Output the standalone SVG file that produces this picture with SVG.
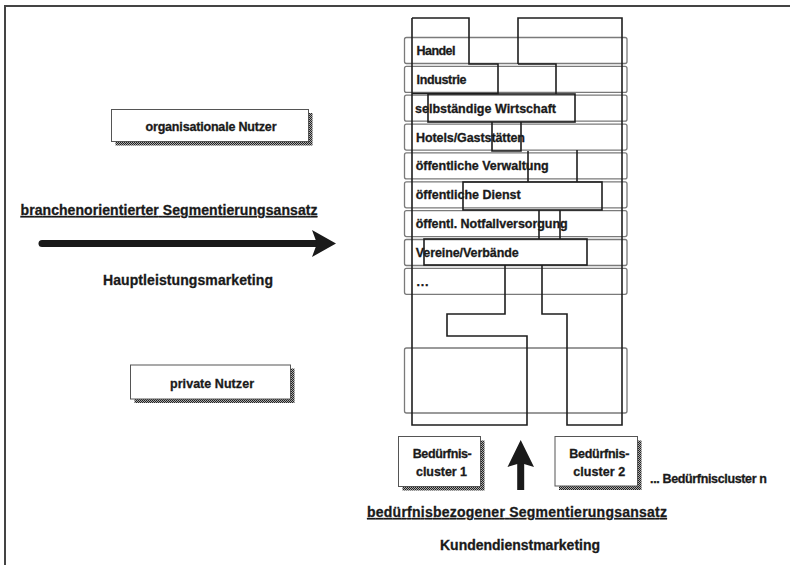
<svg xmlns="http://www.w3.org/2000/svg" width="790" height="565" viewBox="0 0 790 565">
<defs>
<pattern id="stip" width="2" height="2" patternUnits="userSpaceOnUse"><rect width="2" height="2" fill="#aaa"/><rect width="1" height="1" fill="#222"/><rect x="1" y="1" width="1" height="1" fill="#222"/></pattern>
<style>
text{font-family:"Liberation Sans",Arial,Helvetica,sans-serif;font-weight:bold;fill:#1a1a1a;stroke:#1a1a1a;stroke-width:0.3}
.lbl{font-size:12.5px}
.big{font-size:14px}
.row{fill:none;stroke:#7a7a7a;stroke-width:1.3}
.dk{fill:none;stroke:#1e1e1e;stroke-width:1.6}
.box{fill:#fff;stroke:#555;stroke-width:1}
.sh{fill:url(#stip)}
.frame{stroke:#444;stroke-width:2;fill:none}
</style>
</defs>
<rect width="790" height="565" fill="#fff"/>
<path class="frame" d="M5,565 V6 H790"/>

<g id="organisationale-nutzer">
<rect class="sh" x="115.5" y="113" width="197" height="32.5"/>
<rect class="box" x="111.5" y="109.5" width="197" height="32"/>
<text class="lbl" x="145.5" y="131" textLength="131">organisationale Nutzer</text>
</g>

<g id="private-nutzer">
<rect class="sh" x="134.5" y="368.5" width="160" height="34.5"/>
<rect class="box" x="130.5" y="365" width="160" height="34"/>
<text class="lbl" x="170" y="387.5" textLength="84">private Nutzer</text>
</g>

<g id="branchenorientiert">
<text class="big" x="20.5" y="215" textLength="297" text-decoration="underline">branchenorientierter Segmentierungsansatz</text>
<text class="big" x="103" y="285" textLength="170">Hauptleistungsmarketing</text>
</g>

<g id="rows">
<rect class="row" x="404.5" y="37.5" width="222.5" height="26" rx="2"/>
<rect class="row" x="404.5" y="66.4" width="222.5" height="26" rx="2"/>
<rect class="row" x="404.5" y="95.2" width="222.5" height="26" rx="2"/>
<rect class="row" x="404.5" y="124.1" width="222.5" height="26" rx="2"/>
<rect class="row" x="404.5" y="152.9" width="222.5" height="26" rx="2"/>
<rect class="row" x="404.5" y="181.8" width="222.5" height="26" rx="2"/>
<rect class="row" x="404.5" y="210.6" width="222.5" height="26" rx="2"/>
<rect class="row" x="404.5" y="239.5" width="222.5" height="26" rx="2"/>
<rect class="row" x="404.5" y="268.3" width="222.5" height="26" rx="2"/>
<rect class="row" x="404.5" y="348" width="222.5" height="65" rx="2"/>
<text class="lbl" x="416.5" y="55" textLength="39">Handel</text>
<text class="lbl" x="416.5" y="84" textLength="50">Industrie</text>
<text class="lbl" x="415" y="112.8" textLength="141">selbständige Wirtschaft</text>
<text class="lbl" x="416" y="141.6" textLength="109">Hotels/Gaststätten</text>
<text class="lbl" x="415.7" y="170.4" textLength="133">öffentliche Verwaltung</text>
<text class="lbl" x="415.7" y="199.3" textLength="105">öffentliche Dienst</text>
<text class="lbl" x="415.7" y="228.1" textLength="152">öffentl. Notfallversorgung</text>
<text class="lbl" x="415.7" y="257" textLength="103">Vereine/Verbände</text>
<text class="lbl" x="416.5" y="285.8" textLength="12">...</text>
</g>

<g id="cluster-outlines">
<path class="dk" d="M412,18 V425 H527 V336 H447 V314 H505 V265"/>
<path class="dk" d="M412,18 H469 V64 H498 V93.5 H412"/>
<rect class="dk" x="428" y="94" width="147" height="28"/>
<path class="dk" d="M518,64 V18 H622 V425 H567 V314 H542 V265"/>
<path class="dk" d="M518,64 H556 V94"/>
<path class="dk" d="M492,122 V151 H521 V122"/>
<path class="dk" d="M528,151 V182"/>
<path class="dk" d="M577,150 V182"/>
<rect class="dk" x="463" y="182" width="139" height="28"/>
<path class="dk" d="M539,210 V239 M560,210 V239"/>
<rect class="dk" x="424" y="239" width="163" height="26"/>
</g>

<g id="connectors">
<line x1="42" y1="243.5" x2="318" y2="243.5" stroke="#1a1a1a" stroke-width="7" stroke-linecap="round"/>
<polygon points="312,230 336,243.5 312,257 317,243.5" fill="#1a1a1a"/>
<line x1="520.7" y1="490" x2="520.7" y2="462" stroke="#1a1a1a" stroke-width="7"/>
<polygon points="507.5,467 520.7,440 534,467 520.7,463" fill="#1a1a1a"/>
</g>

<g id="cluster-1">
<rect class="sh" x="402.5" y="440.5" width="82" height="50"/>
<rect class="box" x="398.5" y="436.5" width="82" height="50"/>
<text class="lbl" x="412.7" y="457.5" textLength="59">Bedürfnis-</text>
<text class="lbl" x="416" y="475.5" textLength="51">cluster 1</text>
</g>

<g id="cluster-2">
<rect class="sh" x="559" y="440.5" width="82.5" height="49.5"/>
<rect class="box" x="555" y="436.5" width="82.5" height="49.5"/>
<text class="lbl" x="569.3" y="457.5" textLength="60">Bedürfnis-</text>
<text class="lbl" x="573.3" y="475.5" textLength="52">cluster 2</text>
</g>

<g id="cluster-n">
<text class="lbl" x="650" y="483" textLength="117" font-size="12px">... Bedürfniscluster n</text>
</g>

<g id="beduerfnisbezogen">
<text class="big" x="367" y="517" textLength="300" text-decoration="underline">bedürfnisbezogener Segmentierungsansatz</text>
<text class="big" x="440" y="550" textLength="160">Kundendienstmarketing</text>
</g>
</svg>
